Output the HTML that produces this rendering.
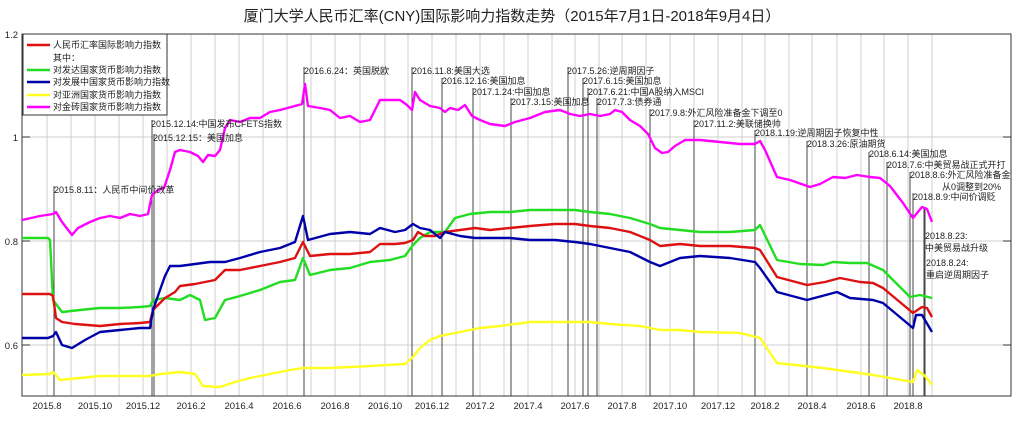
<!DOCTYPE html>
<html><head><meta charset="utf-8"><style>
body{margin:0;background:#fff}
svg{display:block;font-family:"Liberation Sans","Noto Sans CJK SC",sans-serif}
.a{font-size:9px;fill:#222}
.t{font-size:9.5px;fill:#222}
</style></head><body>
<svg width="1024" height="447" viewBox="0 0 1024 447">
<rect width="1024" height="447" fill="#fff"/>
<text x="512" y="21" text-anchor="middle" font-size="15" fill="#222">厦门大学人民币汇率(CNY)国际影响力指数走势（2015年7月1日-2018年9月4日）</text>
<g stroke="#cfcfcf" stroke-width="1">
<line x1="47" y1="34" x2="47" y2="396"/><line x1="71" y1="34" x2="71" y2="396"/><line x1="95" y1="34" x2="95" y2="396"/><line x1="119" y1="34" x2="119" y2="396"/><line x1="143" y1="34" x2="143" y2="396"/><line x1="167" y1="34" x2="167" y2="396"/><line x1="191" y1="34" x2="191" y2="396"/><line x1="215" y1="34" x2="215" y2="396"/><line x1="239" y1="34" x2="239" y2="396"/><line x1="263" y1="34" x2="263" y2="396"/><line x1="287" y1="34" x2="287" y2="396"/><line x1="311" y1="34" x2="311" y2="396"/><line x1="335" y1="34" x2="335" y2="396"/><line x1="360" y1="34" x2="360" y2="396"/><line x1="385" y1="34" x2="385" y2="396"/><line x1="408" y1="34" x2="408" y2="396"/><line x1="432" y1="34" x2="432" y2="396"/><line x1="456" y1="34" x2="456" y2="396"/><line x1="480" y1="34" x2="480" y2="396"/><line x1="504" y1="34" x2="504" y2="396"/><line x1="528" y1="34" x2="528" y2="396"/><line x1="552" y1="34" x2="552" y2="396"/><line x1="575" y1="34" x2="575" y2="396"/><line x1="599" y1="34" x2="599" y2="396"/><line x1="622" y1="34" x2="622" y2="396"/><line x1="646" y1="34" x2="646" y2="396"/><line x1="670" y1="34" x2="670" y2="396"/><line x1="694" y1="34" x2="694" y2="396"/><line x1="718" y1="34" x2="718" y2="396"/><line x1="742" y1="34" x2="742" y2="396"/><line x1="765" y1="34" x2="765" y2="396"/><line x1="789" y1="34" x2="789" y2="396"/><line x1="812" y1="34" x2="812" y2="396"/><line x1="837" y1="34" x2="837" y2="396"/><line x1="861" y1="34" x2="861" y2="396"/><line x1="884" y1="34" x2="884" y2="396"/><line x1="908" y1="34" x2="908" y2="396"/><line x1="932" y1="34" x2="932" y2="396"/>
<line x1="22" y1="137" x2="1011" y2="137"/><line x1="22" y1="241" x2="1011" y2="241"/><line x1="22" y1="345" x2="1011" y2="345"/>
</g>
<rect x="22" y="34" width="989" height="362" fill="none" stroke="#333" stroke-width="1"/>
<g stroke="#333"><line x1="22" y1="137" x2="30" y2="137"/><line x1="22" y1="241" x2="30" y2="241"/><line x1="22" y1="345" x2="30" y2="345"/><line x1="1003" y1="137" x2="1011" y2="137"/><line x1="1003" y1="241" x2="1011" y2="241"/><line x1="1003" y1="345" x2="1011" y2="345"/></g>
<g class="t" text-anchor="end"><text x="18" y="38">1.2</text><text x="18" y="141">1</text><text x="18" y="245">0.8</text><text x="18" y="349">0.6</text></g>
<g class="t" text-anchor="middle"><text x="47" y="409">2015.8</text><text x="95" y="409">2015.10</text><text x="143" y="409">2015.12</text><text x="191" y="409">2016.2</text><text x="239" y="409">2016.4</text><text x="287" y="409">2016.6</text><text x="335" y="409">2016.8</text><text x="385" y="409">2016.10</text><text x="432" y="409">2016.12</text><text x="480" y="409">2017.2</text><text x="528" y="409">2017.4</text><text x="575" y="409">2017.6</text><text x="622" y="409">2017.8</text><text x="670" y="409">2017.10</text><text x="718" y="409">2017.12</text><text x="765" y="409">2018.2</text><text x="812" y="409">2018.4</text><text x="861" y="409">2018.6</text><text x="908" y="409">2018.8</text></g>
<g stroke="#444" stroke-width="1">
<line x1="54" y1="186" x2="54" y2="396"/><line x1="152" y1="120" x2="152" y2="396"/><line x1="154" y1="134" x2="154" y2="396"/><line x1="304" y1="67" x2="304" y2="396"/><line x1="412" y1="67" x2="412" y2="396"/><line x1="442" y1="78" x2="442" y2="396"/><line x1="473" y1="88" x2="473" y2="396"/><line x1="511" y1="98" x2="511" y2="396"/><line x1="568" y1="67" x2="568" y2="396"/><line x1="583" y1="78" x2="583" y2="396"/><line x1="588" y1="88" x2="588" y2="396"/><line x1="597" y1="98" x2="597" y2="396"/><line x1="650" y1="109" x2="650" y2="396"/><line x1="694" y1="120" x2="694" y2="396"/><line x1="755" y1="130" x2="755" y2="396"/><line x1="807" y1="141" x2="807" y2="396"/><line x1="869" y1="152" x2="869" y2="396"/><line x1="887" y1="162" x2="887" y2="396"/><line x1="910" y1="172" x2="910" y2="396"/><line x1="913" y1="193" x2="913" y2="396"/><line x1="924" y1="208" x2="924" y2="396"/><line x1="925" y1="208" x2="925" y2="396"/>
</g>
<g fill="none" stroke-width="2.4" stroke-linejoin="round">
<polyline stroke="#ff00ff" points="22,220 40,216 53,214 56,212 62,222 72,235 78,228 90,222 100,218 110,216 120,218 130,214 140,216 148,214 152,195 158,190 164,188 170,170 175,152 180,150 190,152 198,156 203,162 208,155 215,156 220,150 225,128 230,120 240,122 250,118 260,118 270,112 280,110 295,106 302,104 305,84 308,106 320,108 330,110 340,118 350,116 360,122 370,120 380,100 390,100 400,100 407,105 412,110 415,92 420,100 430,106 440,108 445,112 450,108 458,110 465,105 472,116 480,120 490,124 505,126 515,122 530,118 545,112 560,110 570,114 580,116 590,114 600,116 610,114 615,110 622,112 630,120 640,126 648,134 655,148 662,153 668,152 675,146 685,140 700,140 720,142 740,144 755,144 760,141 765,150 777,177 790,180 810,187 820,184 833,177 845,178 857,175 870,177 880,178 890,186 903,203 913,218 922,207 927,209 932,222"/>
<polyline stroke="#22dd22" points="22,238 48,238 50,240 53,300 62,312 80,310 100,308 120,308 140,307 150,306 153,300 165,298 180,300 190,295 200,300 205,320 215,318 225,300 240,296 260,290 280,282 295,280 303,258 310,275 330,270 350,268 370,262 390,260 405,256 413,245 420,238 430,232 445,232 455,218 470,214 490,212 510,212 530,210 555,210 575,210 590,212 610,214 630,218 650,224 660,228 680,230 700,232 730,232 755,230 760,225 777,260 800,264 823,265 833,262 850,263 867,263 883,270 910,297 920,295 932,298"/>
<polyline stroke="#dd1111" points="22,294 50,294 53,296 56,318 62,322 75,324 100,326 120,324 140,323 150,322 153,310 165,298 175,292 180,286 195,284 205,282 215,280 225,270 240,270 260,266 280,262 295,258 303,242 310,256 330,254 350,254 370,252 380,244 395,244 405,243 413,240 418,232 425,236 435,236 445,232 460,230 475,228 490,230 510,228 530,226 555,224 575,224 590,226 610,228 630,232 650,240 660,246 680,244 700,246 730,246 755,248 760,250 777,277 807,285 825,282 840,278 860,282 873,283 883,288 913,313 922,307 927,308 932,317"/>
<polyline stroke="#0000aa" points="22,338 48,338 53,336 56,332 62,345 72,348 85,340 100,332 120,330 140,328 150,328 153,310 160,290 165,276 170,266 180,266 195,264 210,262 225,262 240,258 260,252 280,248 295,242 303,216 308,240 330,234 350,232 370,234 380,228 395,232 405,230 413,224 420,228 430,230 440,238 445,232 460,236 475,238 490,238 510,238 530,240 555,240 575,242 590,244 610,248 630,252 650,262 660,266 680,258 700,256 730,258 755,262 760,268 777,292 807,300 822,296 837,292 850,298 873,300 883,303 913,328 916,315 922,315 932,332"/>
<polyline stroke="#ffff22" points="22,375 50,374 53,372 60,380 80,378 100,376 120,376 140,376 150,376 160,374 180,372 195,374 203,386 220,387 235,382 250,378 270,374 290,370 303,368 330,368 370,366 405,364 412,358 420,348 430,340 440,336 460,332 480,328 500,326 530,322 560,322 590,322 610,324 640,326 660,330 680,330 700,332 740,333 760,338 777,363 823,368 873,375 913,382 917,370 925,376 932,385"/>
</g>
<g class="a">
<text x="54" y="193">2015.8.11：人民币中间价改革</text>
<text x="151" y="127">2015.12.14:中国发布CFETS指数</text>
<text x="153" y="141">2015.12.15：美国加息</text>
<text x="304" y="74">2016.6.24：英国脱欧</text>
<text x="412" y="74">2016.11.8:美国大选</text>
<text x="442" y="84">2016.12.16:美国加息</text>
<text x="472" y="95">2017.1.24:中国加息</text>
<text x="511" y="105">2017.3.15:美国加息</text>
<text x="567" y="74">2017.5.26:逆周期因子</text>
<text x="583" y="84">2017.6.15:美国加息</text>
<text x="588" y="95">2017.6.21:中国A股纳入MSCI</text>
<text x="597" y="105">2017.7.3:债券通</text>
<text x="650" y="116">2017.9.8:外汇风险准备金下调至0</text>
<text x="694" y="127">2017.11.2:美联储换帅</text>
<text x="755" y="136">2018.1.19:逆周期因子恢复中性</text>
<text x="807" y="147">2018.3.26:原油期货</text>
<text x="869" y="157">2018.6.14:美国加息</text>
<text x="887" y="168">2018.7.6:中美贸易战正式开打</text>
<text x="910" y="178">2018.8.6:外汇风险准备金</text>
<text x="1001" y="190" text-anchor="end">从0调整到20%</text>
<text x="913" y="200">2018.8.9:中间价调贬</text>
<text x="925" y="239">2018.8.23:</text>
<text x="925" y="251">中美贸易战升级</text>
<text x="926" y="266">2018.8.24:</text>
<text x="926" y="278">重启逆周期因子</text>
</g>
<rect x="23" y="34" width="144" height="81" fill="#fff" stroke="#333"/>
<g stroke-width="2.4">
<line x1="27" y1="45" x2="50" y2="45" stroke="#dd1111"/>
<line x1="27" y1="70" x2="50" y2="70" stroke="#22dd22"/>
<line x1="27" y1="82" x2="50" y2="82" stroke="#0000aa"/>
<line x1="27" y1="95" x2="50" y2="95" stroke="#ffff22"/>
<line x1="27" y1="107" x2="50" y2="107" stroke="#ff00ff"/>
</g>
<g class="a">
<text x="53" y="48">人民币汇率国际影响力指数</text>
<text x="53" y="61">其中：</text>
<text x="53" y="73">对发达国家货币影响力指数</text>
<text x="53" y="85">对发展中国家货币影响力指数</text>
<text x="53" y="98">对亚洲国家货币影响力指数</text>
<text x="53" y="110">对金砖国家货币影响力指数</text>
</g>
</svg>
</body></html>
